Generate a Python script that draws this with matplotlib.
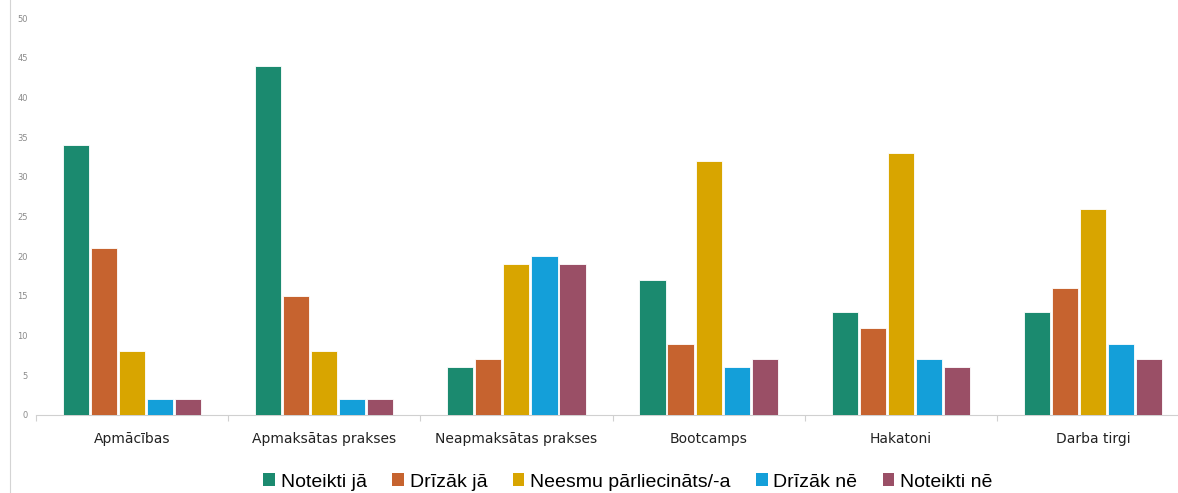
import numpy as np
import matplotlib
matplotlib.use("Agg")
import matplotlib.pyplot as plt
from matplotlib.lines import Line2D
import matplotlib.patches as mpatches

# ── Data ────────────────────────────────────────────────────────────────────
categories = ["Apmācības", "Apmaksātas prakses", "Neapmaksātas prakses",
              "Bootcamps", "Hakatoni", "Darba tirgi"]
series_names = ["Noteikti jā", "Drīzāk jā", "Neesmu pārliecināts/-a",
                "Drīzāk nē", "Noteikti nē"]
noteikti_ja = [34, 44, 6, 17, 13, 13]
drizak_ja = [21, 15, 7, 9, 11, 16]
neesmu = [8, 8, 19, 32, 33, 26]
drizak_ne = [2, 2, 20, 6, 7, 9]
noteikti_ne = [2, 2, 19, 7, 6, 7]
series = [noteikti_ja, drizak_ja, neesmu, drizak_ne, noteikti_ne]
y_ticks = [0, 5, 10, 15, 20, 25, 30, 35, 40, 45, 50]

COLORS = ["#1b8a6f", "#c6632f", "#d8a500", "#149fd9", "#9a4f66"]
TEXT = "#222222"
TICK = "#8a8a8a"

fig = plt.figure(figsize=(11.78, 4.93), dpi=100)
ax = fig.add_axes([36 / 1178, 1 - 415 / 493, (1189 - 36) / 1178, (415 - 18) / 493])

x = np.arange(len(categories))
pitch = 0.146
width = 0.136
for i, (vals, name) in enumerate(zip(series, series_names)):
    ax.bar(x + (i - 2) * pitch, vals, width=width, color=COLORS[i],
           edgecolor="white", linewidth=0.6, label=name, zorder=3)

ax.set_xlim(-0.5, len(categories) - 0.5)
ax.set_ylim(0, 50)
ax.set_yticks(y_ticks)
ax.set_yticklabels([str(v) for v in y_ticks], fontsize=6, color=TICK)
ax.tick_params(axis="y", length=0, pad=6)

# category labels centered, group separator ticks at boundaries
ax.set_xticks(x)
ax.set_xticklabels(categories, fontsize=10, color=TEXT)
ax.tick_params(axis="x", length=0, pad=12)
ax.set_xticks(np.arange(len(categories) + 1) - 0.5, minor=True)
ax.tick_params(axis="x", which="minor", length=4, color="#d0d0d0", width=0.8)

for side in ["top", "right", "left"]:
    ax.spines[side].set_visible(False)
ax.spines["bottom"].set_color("#d0d0d0")
ax.spines["bottom"].set_linewidth(0.8)

# thin border line on the far left of the image
fig.add_artist(Line2D([10 / 1178, 10 / 1178], [0, 1], transform=fig.transFigure,
                      color="#d4d4d4", linewidth=0.8))

handles = [mpatches.Patch(facecolor=c, label=n) for c, n in zip(COLORS, series_names)]
fig.legend(handles=handles, loc="center", bbox_to_anchor=(628 / 1178, 1 - 482 / 493),
           ncol=5, frameon=False, handlelength=0.6, handleheight=0.6,
           handletextpad=0.3, columnspacing=1.3,
           prop={"family": ["Liberation Sans", "DejaVu Sans"], "size": 14})

fig.savefig("out.png", dpi=100, facecolor="white")
